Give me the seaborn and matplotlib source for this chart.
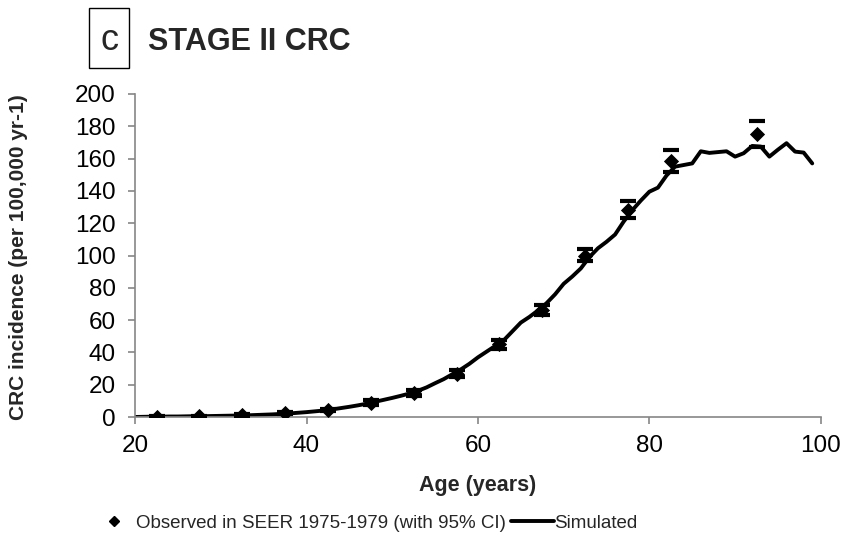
import numpy as np
import pandas as pd
import matplotlib
matplotlib.use("Agg")
import matplotlib.pyplot as plt
import seaborn as sns
from matplotlib.lines import Line2D
from matplotlib.patches import Rectangle

# observed SEER 1975-1979 (5-year age group midpoints)
obs_age = [22.5, 27.5, 32.5, 37.5, 42.5, 47.5, 52.5, 57.5, 62.5, 67.5, 72.5, 77.5, 82.5, 92.5]
obs_rate = [0.3, 0.6, 1.2, 2.3, 4.4, 8.9, 15.0, 26.8, 45.0, 66.0, 99.5, 128.0, 158.5, 175.0]
obs_low = [0.1, 0.3, 0.8, 1.7, 3.6, 7.6, 13.2, 24.6, 42.2, 63.2, 96.5, 123.5, 151.5, 167.0]
obs_high = [0.6, 1.0, 1.7, 3.0, 5.3, 10.3, 16.9, 29.1, 47.9, 69.1, 104.0, 133.5, 165.0, 183.0]

# simulated incidence by single year of age
sim_age = list(range(20, 100))
sim_rate = [0.1, 0.2, 0.3, 0.3, 0.4, 0.4, 0.5, 0.6, 0.6, 0.7,
            0.8, 0.9, 1.0, 1.1, 1.3, 1.5, 1.7, 2.0, 2.3, 2.7,
            3.1, 3.6, 4.1, 4.8, 5.6, 6.4, 7.3, 8.3, 9.5, 10.7,
            11.9, 13.2, 14.6, 16.3, 18.4, 21.0, 23.5, 26.5, 29.5, 33.0,
            37.0, 40.5, 44.0, 47.5, 53.0, 58.5, 62.0, 66.0, 70.5, 76.0,
            82.5, 87.0, 92.0, 99.0, 104.5, 108.5, 113.0, 121.0, 128.0, 134.0,
            139.5, 142.0, 149.5, 155.0, 156.0, 157.0, 164.5, 163.5, 164.0, 164.5,
            161.2, 163.3, 167.8, 167.4, 161.2, 165.5, 169.5, 164.3, 163.7, 157.0]

obs = pd.DataFrame({"age": obs_age, "rate": obs_rate, "low": obs_low, "high": obs_high})
sim = pd.DataFrame({"age": sim_age, "rate": sim_rate})

sns.set_style("ticks")
plt.rcParams['font.family'] = ['Liberation Sans', 'DejaVu Sans']

fig = plt.figure(figsize=(8.55, 5.46), dpi=100)
ax = fig.add_axes([0.158, 0.236, 0.802, 0.592])

sns.lineplot(data=sim, x="age", y="rate", color="black", linewidth=2.8, ax=ax)
ax.errorbar(obs["age"], obs["rate"],
            yerr=[obs["rate"] - obs["low"], obs["high"] - obs["rate"]],
            fmt="none", ecolor="black", elinewidth=0, capsize=6, capthick=3, zorder=3)
sns.scatterplot(data=obs, x="age", y="rate", marker="D", s=60, color="black",
                edgecolor="black", linewidth=0, ax=ax, zorder=4)

ax.set_xlim(20, 100)
ax.set_ylim(0, 200)
ax.set_xticks([20, 40, 60, 80, 100])
ax.set_yticks(range(0, 201, 20))
sns.despine(ax=ax)
for s in ["left", "bottom"]:
    ax.spines[s].set_color("#868686")
    ax.spines[s].set_linewidth(1.2)
ax.tick_params(axis="both", colors="#868686", labelcolor="black", labelsize=17.5,
               length=5, width=1.2)
ax.tick_params(axis="y", pad=9)
ax.tick_params(axis="x", pad=8)

ax.set_xlabel("Age (years)", fontsize=15.5, fontweight="bold")
ax.set_ylabel("CRC incidence (per 100,000 yr-1)", fontsize=15, fontweight="bold")
ax.xaxis.set_label_coords(0.5, -0.21)
ax.xaxis.label.set_va("center")
ax.yaxis.set_label_coords(-0.170, 0.495)
ax.yaxis.label.set_va("center")

# panel letter + title
fig.patches.append(Rectangle((0.104, 0.875), 0.047, 0.110, transform=fig.transFigure,
                             fill=False, ec="black", lw=1))
fig.text(0.1275, 0.925, "c", fontsize=26, ha="center", va="center")
fig.text(0.173, 0.923, "STAGE II CRC", fontsize=22, fontweight="bold", ha="left", va="center")

handles = [Line2D([], [], color="black", marker="D", linestyle="none", markersize=5.5),
           Line2D([], [], color="black", linewidth=2.8)]
fig.legend(handles, ["Observed in SEER 1975-1979 (with 95% CI)", "Simulated"],
           loc="center", bbox_to_anchor=(0.427, 0.042), ncol=2, frameon=False,
           fontsize=13.5, handlelength=2.3, handletextpad=0.0, columnspacing=0.3)

fig.savefig("out.png", dpi=100)
